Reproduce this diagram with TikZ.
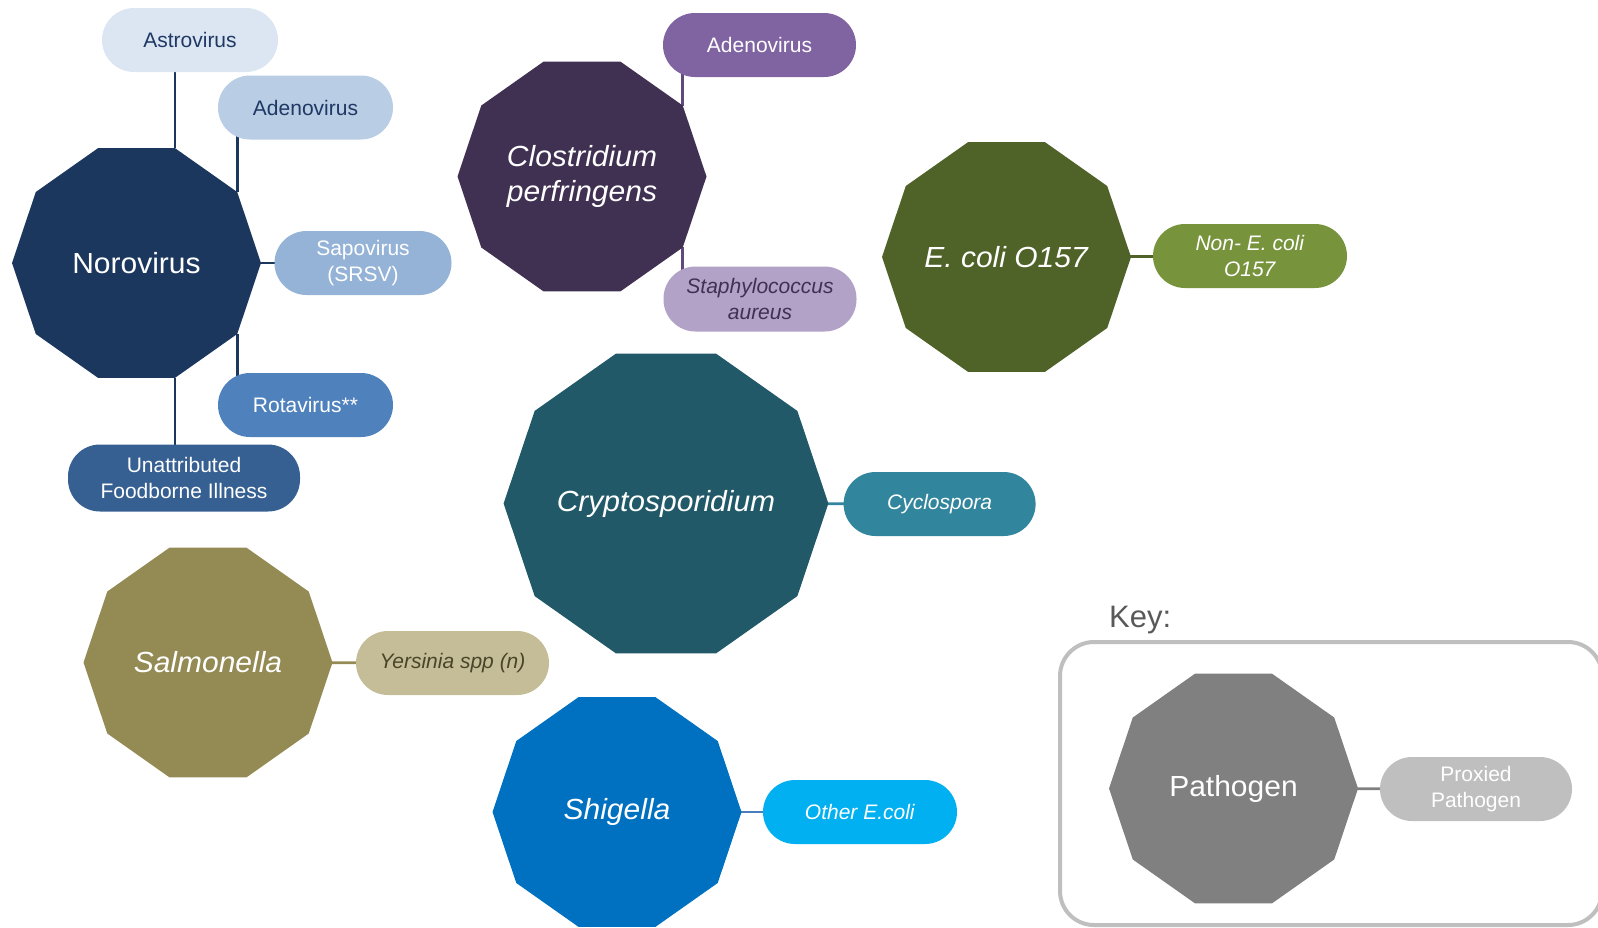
\documentclass[tikz,border=0pt]{standalone}
\usepackage{fontspec}
\setmainfont{Liberation Sans}
\usetikzlibrary{shapes.geometric,backgrounds}

% fills
\definecolor{noroF}{HTML}{1C375E}
\definecolor{astroF}{HTML}{DCE6F2}
\definecolor{adenoF}{HTML}{B9CDE5}
\definecolor{sapoF}{HTML}{95B3D7}
\definecolor{rotaF}{HTML}{4F81BD}
\definecolor{unattrF}{HTML}{376092}
\definecolor{clostF}{HTML}{403152}
\definecolor{adenoB}{HTML}{8064A2}
\definecolor{staphF}{HTML}{B3A2C7}
\definecolor{ecoliF}{HTML}{4F6228}
\definecolor{nonecoliF}{HTML}{77933C}
\definecolor{cryptoF}{HTML}{215968}
\definecolor{cycloF}{HTML}{31859C}
\definecolor{salmF}{HTML}{948A54}
\definecolor{yersF}{HTML}{C4BD97}
\definecolor{shigF}{HTML}{0070C0}
\definecolor{otherF}{HTML}{00B0F0}
\definecolor{pathF}{HTML}{808080}
\definecolor{proxF}{HTML}{BFBFBF}
% texts and lines
\definecolor{navyT}{HTML}{1F3864}
\definecolor{yersT}{HTML}{4A452A}
\definecolor{keyT}{HTML}{595959}
\definecolor{clostL}{HTML}{604A7B}
\definecolor{shigL}{HTML}{4A7EBB}

\tikzset{
  pathogen/.style={regular polygon, regular polygon sides=10,
    minimum size=#1pt, inner sep=0pt, outer sep=0pt, draw=none,
    yscale=0.97, transform shape,
    text=white, align=center, font=\fontsize{30}{37}\selectfont},
  pathogen/.default=249,
  pill/.style={rectangle, rounded corners=32pt, minimum height=64pt,
    inner sep=0pt, outer sep=0pt, align=center, text=white,
    font=\fontsize{21}{25.5}\selectfont},
  link/.style={line width=2.8pt},
  keyframe/.style={rectangle, draw=proxF, line width=4pt,
    rounded corners=34pt, inner sep=0pt},
}

\begin{document}
\begin{tikzpicture}[x=1pt,y=-1pt]
\useasboundingbox (0,0) rectangle (1598,927);
\clip (0,0) rectangle (1598,927);

% Norovirus group
\node[pathogen, fill=noroF] (noro) at (136.5,263) {Norovirus};
\node[pill, fill=astroF, text=navyT, minimum width=176pt] (astro) at (190,40) {Astrovirus};
\node[pill, fill=adenoF, text=navyT, minimum width=175pt] (adenoA) at (305.5,107.5) {Adenovirus};
\node[pill, fill=sapoF, minimum width=177pt] (sapo) at (363,263) {Sapovirus\\(SRSV)};
\node[pill, fill=rotaF, minimum width=175pt] (rota) at (305.5,405) {Rotavirus**};
\node[pill, fill=unattrF, minimum width=232pt, minimum height=67pt] (unattr) at (184,478) {Unattributed\\Foodborne Illness};

% Clostridium group
\node[pathogen, fill=clostF] (clost) at (582,176.5) {\textit{Clostridium}\\\textit{perfringens}};
\node[pill, fill=adenoB, minimum width=193pt] (adenoC) at (759.5,45) {Adenovirus};
\node[pill, fill=staphF, text=clostF, minimum width=193pt, minimum height=65pt] (staph) at (760,299) {\textit{Staphylococcus}\\\textit{aureus}};

% E. coli group
\node[pathogen, fill=ecoliF] (ecoli) at (1006.5,257) {\textit{E. coli O157}};
\node[pill, fill=nonecoliF, minimum width=194pt] (nonecoli) at (1250,256) {\textit{Non- E. coli}\\\textit{O157}};

% Cryptosporidium group
\node[pathogen=319, fill=cryptoF] (crypto) at (666,503.5) {\textit{Cryptosporidium}};
\node[pill, fill=cycloF, minimum width=192pt] (cyclo) at (939.6,504) {\textit{Cyclospora}};

% Salmonella group
\node[pathogen, fill=salmF] (salm) at (208,662.5) {\textit{Salmonella}};
\node[pill, fill=yersF, text=yersT, minimum width=193pt] (yers) at (452.5,663) {\textit{Yersinia spp (n)}};

% Shigella group
\node[pathogen, fill=shigF] (shig) at (617,812) {\textit{Shigella}};
\node[pill, fill=otherF, minimum width=194pt] (other) at (860,812) {\textit{Other E.coli}};

% Key
\node[anchor=base west, text=keyT, inner sep=0pt, font=\fontsize{31}{37}\selectfont] (keylabel) at (1109,627) {Key:};
\node[keyframe, minimum width=542pt, minimum height=283pt] (keybox) at (1331,783.5) {};
\node[pathogen, fill=pathF] (path) at (1233.5,788.5) {Pathogen};
\node[pill, fill=proxF, minimum width=192pt] (prox) at (1476,789) {Proxied\\Pathogen};

% connectors, kept behind the shapes
\begin{pgfonlayer}{background}
  \draw[link, noroF] (noro.corner 1) -- (noro.corner 1 |- astro.center);
  \draw[link, noroF] (noro.corner 10) -- (noro.corner 10 |- adenoA.center);
  \draw[link, noroF] (noro.center) -- (sapo.center);
  \draw[link, noroF] (noro.corner 8) -- (noro.corner 8 |- rota.center);
  \draw[link, noroF] (noro.corner 7) -- (noro.corner 7 |- unattr.center);
  \draw[link, clostL] (clost.corner 10) -- (clost.corner 10 |- adenoC.center);
  \draw[link, clostL] (clost.corner 8) -- (clost.corner 8 |- staph.center);
  \draw[link, ecoliF] (ecoli.center) -- (nonecoli.center);
  \draw[link, cycloF] (crypto.center) -- (cyclo.center);
  \draw[link, salmF] (salm.center) -- (yers.center);
  \draw[link, shigL] (shig.center) -- (other.center);
  \draw[link, pathF] (path.center) -- (prox.center);
\end{pgfonlayer}
\end{tikzpicture}
\end{document}
